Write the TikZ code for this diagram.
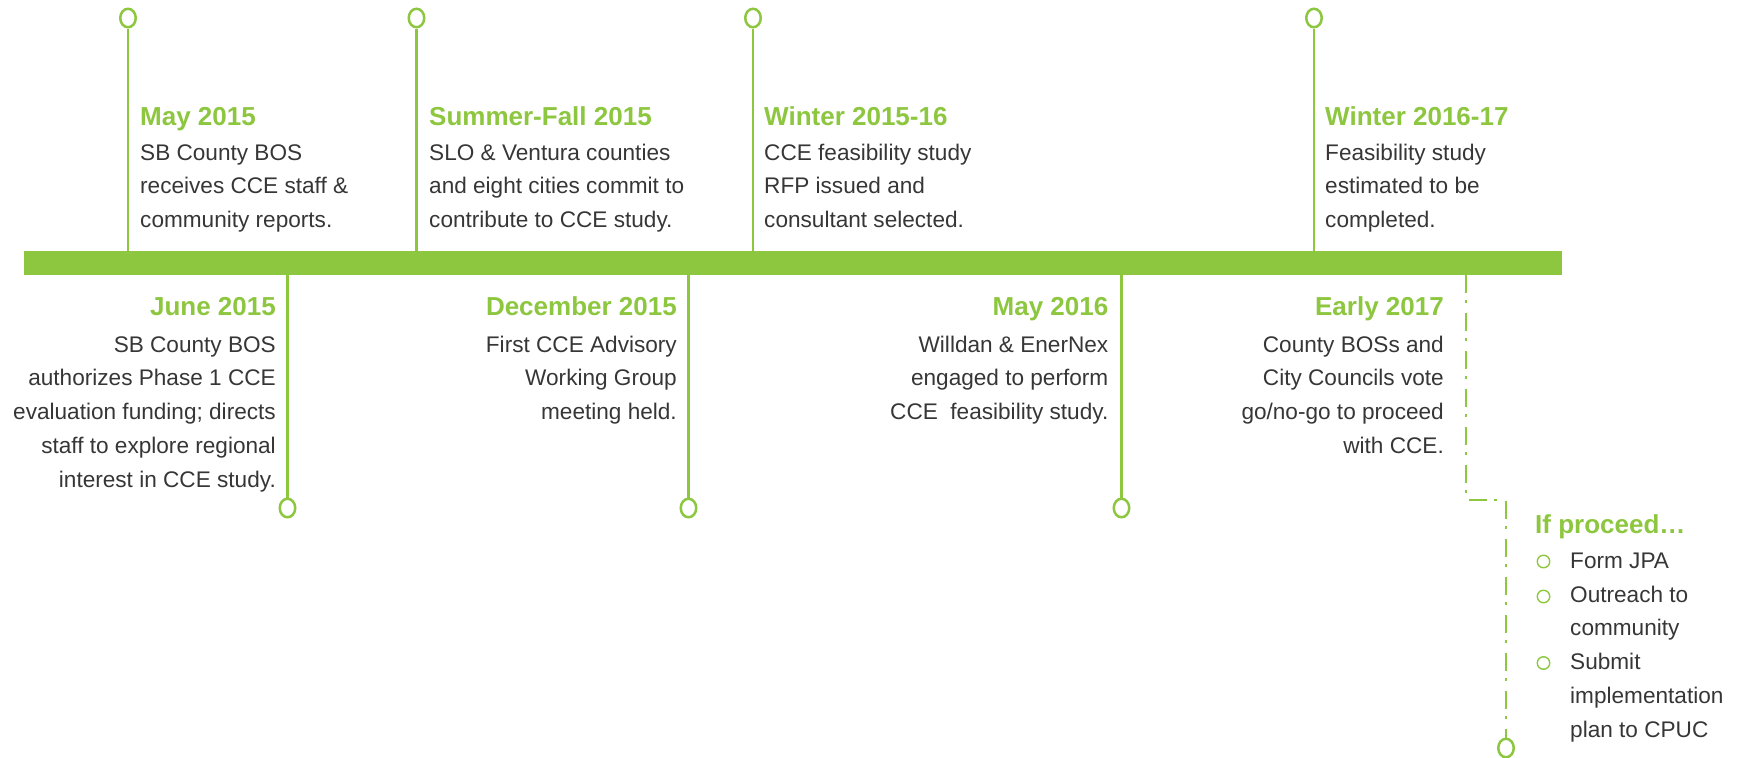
\documentclass[tikz,border=0pt]{standalone}
\usepackage{fontspec}
\setmainfont{Liberation Sans}
\usetikzlibrary{shapes.geometric}
\definecolor{grn}{HTML}{8DC63F}
\definecolor{txt}{HTML}{363636}
\begin{document}
\begin{tikzpicture}[x=1pt,y=-1pt,
  hd/.style={font=\fontsize{26}{30}\selectfont\bfseries, text=grn, inner sep=0pt},
  bd/.style={font=\fontsize{22.6}{30}\selectfont, text=txt, inner sep=0pt},
  ring/.style={ellipse, draw=grn, line width=2.5pt, fill=white, minimum width=15.5pt, minimum height=18.5pt, inner sep=0pt},
  bullet/.style={circle, draw=grn, line width=1.4pt, minimum size=12.5pt, inner sep=0pt},
  stem/.style={draw=grn, line width=2.5pt},
  dashdot/.style={draw=grn, line width=2.8pt, dash pattern=on 18pt off 7pt on 3pt off 10pt},
  barstyle/.style={fill=grn, draw=none, inner sep=0pt, outer sep=0pt, anchor=north west}
]
\useasboundingbox (0,0) rectangle (1741,758);

% bar
\node[barstyle, minimum width=1538pt, minimum height=24pt] (bar) at (24,251) {};

% top rings
\node[ring] (t1) at (128,18) {};
\node[ring] (t2) at (416.5,18) {};
\node[ring] (t3) at (753,18) {};
\node[ring] (t4) at (1314,18) {};
\foreach \n in {t1,t2,t3,t4}
  \draw[stem] (\n.south) -- (\n.south |- bar.north);

% bottom rings
\node[ring] (b1) at (287.5,508) {};
\node[ring] (b2) at (688.5,508) {};
\node[ring] (b3) at (1121.5,508) {};
\foreach \n in {b1,b2,b3}
  \draw[stem] (bar.south -| \n.north) -- (\n.north);

% dashed path to final ring
\node[ring] (b4) at (1506,748) {};
\coordinate (k1) at (1466,500);
\draw[dashdot] (bar.south -| k1) -- (k1) -- (k1 -| b4) -- (b4.north);

% ---- top texts ----
\node[hd, anchor=base west] (h1) at (140,125) {May 2015};
\foreach \t [count=\i] in {SB County BOS,receives CCE staff \&,community reports.}
  \node[bd, anchor=base west] (a\i) at (140,{160+33.8*(\i-1)}) {\t};

\node[hd, anchor=base west] (h2) at (429,125) {Summer-Fall 2015};
\foreach \t [count=\i] in {SLO \& Ventura counties,and eight cities commit to,contribute to CCE study.}
  \node[bd, anchor=base west] (s\i) at (429,{160+33.8*(\i-1)}) {\t};

\node[hd, anchor=base west] (h3) at (764,125) {Winter 2015-16};
\foreach \t [count=\i] in {CCE feasibility study,RFP issued and,consultant selected.}
  \node[bd, anchor=base west] (w\i) at (764,{160+33.8*(\i-1)}) {\t};

\node[hd, anchor=base west] (h4) at (1325,125) {Winter 2016-17};
\foreach \t [count=\i] in {Feasibility study,estimated to be,completed.}
  \node[bd, anchor=base west] (v\i) at (1325,{160+33.8*(\i-1)}) {\t};

% ---- bottom texts ----
\node[hd, anchor=base east] (h5) at (276,315) {June 2015};
\foreach \t [count=\i] in {SB County BOS,authorizes Phase 1 CCE,evaluation funding; directs,staff to explore regional,interest in CCE study.}
  \node[bd, anchor=base east] (j\i) at (276,{352+33.8*(\i-1)}) {\t};

\node[hd, anchor=base east] (h6) at (677,315) {December 2015};
\foreach \t [count=\i] in {First CCE Advisory,Working Group,meeting held.}
  \node[bd, anchor=base east] (d\i) at (677,{352+33.8*(\i-1)}) {\t};

\node[hd, anchor=base east] (h7) at (1108.5,315) {May 2016};
\foreach \t [count=\i] in {Willdan \& EnerNex,engaged to perform,CCE\ \ feasibility study.}
  \node[bd, anchor=base east] (m\i) at (1108.5,{352+33.8*(\i-1)}) {\t};

\node[hd, anchor=base east] (h8) at (1444,315) {Early 2017};
\foreach \t [count=\i] in {County BOSs and,City Councils vote,go/no-go to proceed,with CCE.}
  \node[bd, anchor=base east] (e\i) at (1444,{352+33.8*(\i-1)}) {\t};

% ---- if proceed ----
\node[hd, anchor=base west] (h9) at (1535,533) {If proceed\ldots};
\foreach \t [count=\i] in {Form JPA,Outreach to,community,Submit,implementation,plan to CPUC}
  \node[bd, anchor=base west] (p\i) at (1570,{568.5+33.7*(\i-1)}) {\t};
\node[bullet] (q1) at (1543.5,561.5) {};
\node[bullet] (q2) at (1543.5,596.5) {};
\node[bullet] (q3) at (1543.5,663) {};
\end{tikzpicture}
\end{document}
